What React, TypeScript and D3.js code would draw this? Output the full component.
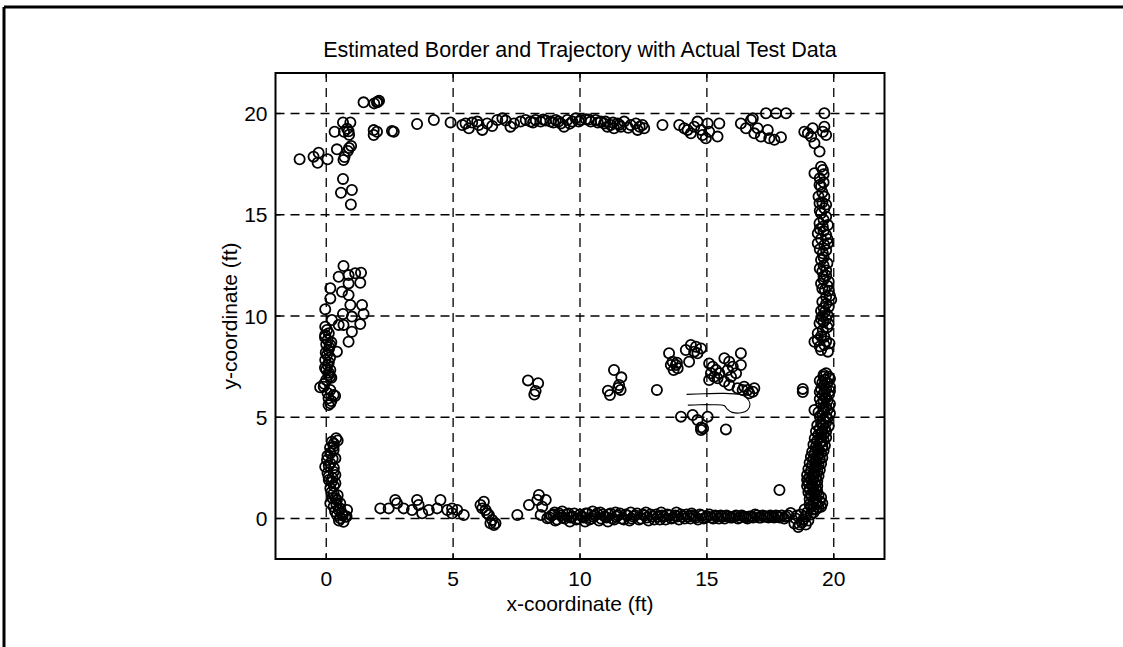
import React from "react";
import * as d3 from "d3";

type P = [number, number];

// ---- Data (ft) ----
const X_TICKS = [0, 5, 10, 15, 20];
const Y_TICKS = [0, 5, 10, 15, 20];
const X_DOMAIN: P = [-2, 22];
const Y_DOMAIN: P = [-2, 22];

const TITLE = "Estimated Border and Trajectory with Actual Test Data";
const X_LABEL = "x-coordinate (ft)";
const Y_LABEL = "y-coordinate (ft)";

const topLeftPoints: P[] = [
  [-1.05, 17.74], [-0.5, 17.87], [-0.3, 18.06], [-0.34, 17.57], [0.05, 17.74],
  [0.42, 18.23], [0.33, 19.1], [0.66, 19.56], [0.95, 19.56], [0.7, 19.1],
  [0.88, 19.12], [0.82, 19.25], [0.9, 18.95], [0.68, 17.7], [0.72, 17.85],
  [0.9, 18.3], [0.98, 18.4], [0.85, 18.15], [0.66, 16.77], [0.58, 16.09],
  [1.01, 16.22], [0.97, 15.51],
  [1.47, 20.55], [1.89, 20.5], [2.0, 20.55], [2.08, 20.63], [2.03, 20.58],
  [1.87, 19.18], [1.87, 18.94], [2.0, 19.1], [2.59, 19.13], [2.66, 19.1],
];

const topBorderPoints: P[] = [
  [3.58, 19.48], [4.24, 19.68], [4.9, 19.56],
  [5.36, 19.43], [5.49, 19.51], [5.62, 19.27], [5.75, 19.55], [5.95, 19.6],
  [6.01, 19.43], [6.15, 19.19], [6.34, 19.51], [6.54, 19.38], [6.74, 19.68],
  [6.94, 19.76], [7.07, 19.65], [7.26, 19.35], [7.4, 19.51], [7.66, 19.6],
  [7.86, 19.68], [8.05, 19.6], [8.25, 19.68], [8.45, 19.6], [8.65, 19.65],
  [8.84, 19.6], [9.04, 19.68], [9.24, 19.51], [9.37, 19.35], [9.5, 19.68],
  [9.7, 19.6], [9.83, 19.76], [10.03, 19.68], [10.23, 19.71], [10.42, 19.6],
  [10.62, 19.68], [10.82, 19.6], [10.95, 19.51], [11.08, 19.35], [11.21, 19.43],
  [11.34, 19.27], [11.48, 19.51], [11.61, 19.35], [11.74, 19.6], [12.0, 19.43],
  [12.2, 19.51], [12.27, 19.19], [12.46, 19.43], [12.53, 19.27],
  [8.15, 19.55], [8.55, 19.7], [8.95, 19.55], [9.15, 19.6], [9.6, 19.5],
  [9.95, 19.6], [10.35, 19.7], [10.7, 19.55], [11.0, 19.6], [11.3, 19.55],
  [11.55, 19.45], [11.9, 19.3], [12.35, 19.35],
  [13.25, 19.43],
  [13.91, 19.43], [14.11, 19.27], [14.24, 19.19], [14.37, 19.02], [14.5, 19.35],
  [14.63, 19.6], [14.77, 19.19], [14.83, 18.94], [14.96, 18.78], [15.03, 19.51],
  [15.09, 19.1], [15.42, 18.86], [15.49, 19.51],
  [16.34, 19.51], [16.54, 19.27], [16.74, 19.68], [16.87, 19.02], [17.13, 18.86],
  [17.33, 20.01], [17.73, 20.01], [18.12, 20.01], [17.0, 19.27], [17.4, 19.19],
  [17.46, 18.78], [17.66, 18.7], [17.92, 18.83], [16.81, 19.76],
];

const rightBorderPoints: P[] = [
  [19.63, 20.01], [18.84, 19.1], [18.98, 19.02], [19.11, 18.86], [19.17, 19.27],
  [19.63, 19.35], [19.7, 18.94], [19.57, 19.1], [19.24, 18.53], [19.44, 18.12],
  [19.5, 17.37], [19.24, 17.05], [19.57, 17.21], [19.44, 16.47], [19.5, 16.39],
  [19.63, 15.89], [19.44, 15.57], [19.63, 15.32], [19.5, 15.07], [19.7, 14.9],
  [19.44, 14.58], [19.57, 14.41], [19.77, 14.49], [19.37, 14.08], [19.7, 14.0],
  [19.37, 13.59], [19.63, 13.51], [19.77, 13.59], [19.57, 13.1], [19.5, 12.77],
  [19.6, 12.5], [19.55, 12.2], [19.7, 12.0], [19.6, 11.8], [19.5, 11.6],
  [19.75, 11.5], [19.65, 11.3], [19.85, 11.0], [19.9, 10.8], [19.7, 10.6],
  [19.6, 10.4], [19.65, 10.2], [19.55, 10.0], [19.7, 9.85], [19.6, 9.7],
  [19.8, 9.6], [19.44, 9.64], [19.57, 9.31], [19.37, 8.81], [19.24, 8.73],
  [19.63, 8.57], [19.83, 8.65], [19.5, 8.32], [19.77, 8.24], [19.37, 9.15],
  [19.63, 8.98],
  [19.6, 17.0], [19.45, 16.8], [19.6, 16.6], [19.55, 16.1], [19.4, 15.9],
  [19.55, 15.6], [19.7, 15.5], [19.45, 15.2], [19.6, 14.75], [19.45, 14.3],
  [19.6, 14.2], [19.5, 13.8], [19.75, 13.8], [19.45, 13.3], [19.7, 13.25],
  [19.6, 12.9], [19.75, 12.6], [19.45, 12.35], [19.7, 12.25], [19.6, 11.95],
  [19.8, 11.7], [19.55, 11.35], [19.8, 11.25], [19.7, 10.95], [19.55, 10.7],
  [19.8, 10.45], [19.5, 10.25], [19.75, 10.05], [19.5, 9.85], [19.75, 9.45],
  [19.5, 9.0], [19.7, 8.75], [19.45, 8.5],
  [19.7, 7.17], [19.6, 7.0], [19.8, 7.0], [19.65, 6.85], [19.55, 6.7],
  [19.75, 6.7], [19.6, 6.55], [19.7, 6.4], [19.5, 6.4], [19.65, 6.25],
  [19.55, 6.1], [19.8, 6.1], [19.7, 5.95], [19.6, 5.8], [19.75, 5.8],
  [19.5, 5.65], [19.7, 5.5], [19.6, 5.5], [19.24, 5.36], [19.75, 5.36],
  [19.55, 5.2], [19.7, 5.05], [19.45, 5.05], [19.6, 4.9], [19.5, 4.75],
  [19.7, 4.75], [19.6, 4.6], [19.45, 4.45], [19.65, 4.45], [19.55, 4.3],
  [19.4, 4.15], [19.6, 4.15], [19.5, 4.0], [19.35, 3.85], [19.6, 3.85],
  [19.45, 3.7], [19.3, 3.55], [19.55, 3.55], [19.4, 3.4], [19.25, 3.25],
  [19.5, 3.25], [19.35, 3.1], [19.2, 2.95], [19.45, 2.95], [19.3, 2.8],
  [19.15, 2.65], [19.4, 2.65], [19.25, 2.5], [19.1, 2.35], [19.35, 2.35],
  [19.2, 2.2], [19.05, 2.05], [19.3, 2.05], [19.1, 1.9], [19.0, 1.75],
  [19.25, 1.75], [19.15, 1.6], [19.05, 1.45], [19.3, 1.45], [19.2, 1.3],
  [19.4, 1.15], [19.1, 1.15], [19.3, 1.0], [19.45, 0.85], [19.2, 0.85],
  [19.35, 0.7], [19.5, 0.58], [19.1, 0.58], [19.3, 0.45], [18.95, 0.3],
  [19.2, 0.3],
  [19.6, 7.1], [19.85, 6.9], [19.45, 6.8], [19.85, 6.5], [19.45, 6.25],
  [19.85, 6.3], [19.65, 6.0], [19.45, 5.9], [19.85, 5.65], [19.6, 5.35],
  [19.85, 5.2], [19.4, 5.25], [19.75, 4.95], [19.55, 4.65], [19.8, 4.55],
  [19.35, 4.6], [19.7, 4.3], [19.3, 4.3], [19.5, 4.2], [19.7, 4.0],
  [19.25, 3.95], [19.5, 3.8], [19.65, 3.6], [19.2, 3.65], [19.35, 3.45],
  [19.6, 3.35], [19.15, 3.3], [19.4, 3.15], [19.55, 3.0], [19.1, 3.05],
  [19.3, 2.9], [19.5, 2.7], [19.05, 2.75], [19.3, 2.55], [19.45, 2.4],
  [19.0, 2.45], [19.25, 2.3], [19.4, 2.1], [18.95, 2.15], [19.2, 2.0],
  [19.35, 1.85], [18.95, 1.9], [19.15, 1.7], [19.35, 1.6], [18.95, 1.6],
  [19.2, 1.5], [19.35, 1.35], [19.0, 1.3], [19.25, 1.2], [19.5, 1.05],
  [19.05, 0.95], [19.3, 0.8], [19.55, 0.75], [19.05, 0.7], [19.4, 0.55],
  [19.2, 0.45], [18.85, 0.45], [19.1, 0.2], [18.8, -0.05], [18.55, 0.15],
  [18.65, -0.3], [18.9, -0.3],
  [18.3, 0.27], [18.5, 0.0], [18.6, -0.42], [18.75, -0.2], [18.9, 0.1],
  [18.45, -0.25], [18.7, 0.2], [19.0, -0.1],
  [18.78, 6.4], [18.78, 6.25], [17.86, 1.41],
];

const bottomBorderPoints: P[] = [
  [2.13, 0.5], [2.46, 0.5], [2.72, 0.91], [2.79, 0.75], [3.05, 0.5],
  [3.38, 0.42], [3.58, 0.91], [3.64, 0.67], [3.78, 0.26], [4.04, 0.42],
  [4.5, 0.91], [4.37, 0.5], [4.77, 0.42], [4.96, 0.26], [5.16, 0.42],
  [5.42, 0.17], [4.96, 0.5],
  [6.08, 0.67], [6.21, 0.83], [6.28, 0.42], [6.34, 0.26], [6.41, 0.17],
  [6.54, -0.07], [6.61, -0.32], [6.47, -0.24], [6.67, -0.24], [6.15, 0.5],
  [7.53, 0.17], [7.99, 0.67], [8.38, 1.16], [8.65, 0.91], [8.32, 0.91],
  [8.51, 0.58], [8.45, 0.17], [8.71, 0.01],
  [8.8, 0.05], [8.95, 0.2], [9.1, -0.05], [9.25, 0.15], [9.4, 0.0],
  [9.55, 0.25], [9.7, 0.1], [9.85, -0.05], [10.0, 0.2], [10.15, 0.05],
  [10.3, 0.25], [10.45, 0.0], [10.6, 0.15], [10.75, -0.1], [10.9, 0.2],
  [11.05, 0.05], [11.2, 0.25], [11.35, -0.05], [11.5, 0.15], [11.65, 0.0],
  [11.8, 0.2], [11.95, -0.1], [12.1, 0.1], [12.25, 0.25], [12.4, 0.0],
  [12.55, 0.15], [12.7, -0.1], [12.85, 0.1], [13.0, 0.2], [13.15, -0.05],
  [13.3, 0.1], [13.45, 0.2], [13.6, 0.0], [13.75, 0.15], [13.9, -0.05],
  [14.05, 0.1], [14.2, 0.2], [14.35, 0.0], [14.5, 0.1], [14.65, -0.05],
  [14.8, 0.15], [14.95, 0.05], [15.1, 0.2], [15.25, 0.0], [15.4, 0.1],
  [15.55, 0.15], [15.7, 0.0], [15.85, 0.1], [16.0, 0.05], [16.15, 0.15],
  [16.3, 0.05], [16.45, 0.1], [16.6, 0.0], [16.75, 0.1], [16.9, 0.2],
  [17.05, 0.05], [17.2, 0.15], [17.35, 0.1], [17.5, 0.15], [17.65, 0.05],
  [17.8, 0.1], [17.95, 0.15], [18.1, 0.1],
  [9.0, 0.3], [9.6, -0.15], [10.2, -0.15], [10.8, 0.3], [11.4, 0.3],
  [12.0, 0.3], [12.6, 0.3], [9.3, 0.35], [10.5, 0.35], [11.1, -0.15],
  [13.2, 0.3], [13.8, 0.3], [14.4, 0.25],
  [8.875, 0.15], [9.025, -0.1], [9.175, 0.25], [9.325, 0.05], [9.475, 0.2],
  [9.625, 0.05], [9.775, 0.25], [9.925, 0.0], [10.075, 0.1], [10.225, 0.25],
  [10.375, -0.05], [10.525, 0.1], [10.675, 0.25], [10.825, 0.0], [10.975, 0.1],
  [11.125, 0.2], [11.275, 0.0], [11.425, 0.1], [11.575, 0.25], [11.725, -0.05],
  [11.875, 0.15], [12.025, 0.0], [12.175, 0.15], [12.325, -0.05], [12.475, 0.2],
  [12.625, 0.05], [12.775, 0.2], [12.925, -0.05], [13.075, 0.1], [13.225, 0.15],
  [13.375, -0.05], [13.525, 0.15], [13.675, 0.05], [13.825, 0.1], [13.975, 0.2],
  [14.125, 0.0], [14.275, 0.1], [14.425, 0.15], [14.575, 0.05], [14.725, 0.2],
  [14.875, 0.0], [15.025, 0.1], [15.175, 0.05], [15.325, 0.15], [15.475, 0.0],
  [15.625, 0.1], [15.775, 0.15], [15.925, 0.05], [16.075, 0.1], [16.225, 0.0],
  [16.375, 0.15], [16.525, 0.05], [16.675, 0.1], [16.825, 0.05], [16.975, 0.15],
  [17.125, 0.05], [17.275, 0.1], [17.425, 0.05], [17.575, 0.1], [17.725, 0.15],
  [17.875, 0.05], [18.05, 0.0], [18.2, 0.15],
];

const leftBorderPoints: P[] = [
  [0.68, 12.47], [0.49, 11.94], [0.88, 12.02], [1.14, 12.11], [1.37, 12.14],
  [0.16, 11.37], [0.88, 11.61], [1.34, 11.64], [0.62, 11.2], [0.16, 10.87],
  [0.88, 11.04], [-0.04, 10.33], [0.95, 10.54], [1.41, 10.54], [0.66, 10.1],
  [1.47, 10.1], [1.01, 9.97], [0.22, 9.8], [0.49, 9.56], [0.68, 9.56],
  [1.34, 9.6], [1.01, 9.22], [0.88, 8.73],
  [-0.04, 9.47], [0.03, 9.31], [-0.04, 9.06], [0.05, 8.81], [0.16, 8.57],
  [0.09, 8.32], [0.03, 8.07], [-0.04, 7.83], [0.05, 7.58], [0.16, 7.33],
  [0.09, 7.09], [0.0, 6.84], [-0.1, 6.51], [-0.24, 6.48], [0.16, 6.35],
  [0.29, 6.1], [0.09, 5.94], [0.16, 5.69], [0.09, 5.6], [0.42, 8.24],
  [0.2, 8.7], [-0.05, 8.95], [0.15, 7.95], [0.1, 7.2], [-0.05, 7.45],
  [0.2, 6.95], [0.35, 6.05],
  [0.1, 9.15], [0.0, 8.6], [0.12, 8.45], [-0.02, 8.2], [0.1, 7.7],
  [0.0, 7.35], [0.15, 7.0], [-0.08, 6.65], [0.05, 6.2], [0.2, 5.8],
  [0.39, 3.96], [0.29, 3.55], [0.16, 3.22], [0.03, 2.89], [-0.04, 2.56],
  [0.16, 2.73], [0.29, 2.31], [0.09, 2.06], [0.22, 1.82], [0.16, 1.49],
  [0.29, 1.24], [0.36, 1.0], [0.16, 0.75], [0.42, 0.91], [0.29, 0.58],
  [0.49, 0.42], [0.62, 0.26], [0.55, 0.01], [0.75, 0.09], [0.42, 0.17],
  [0.55, 0.75], [0.68, -0.16], [0.82, 0.42], [0.36, 2.97], [0.36, 1.74],
  [0.29, 3.38], [0.22, 3.79], [0.36, 2.15],
  [0.05, 3.1], [0.25, 2.95], [0.1, 2.6], [0.3, 2.5], [0.05, 2.25],
  [0.25, 2.0], [0.1, 1.9], [0.3, 1.6], [0.2, 1.3], [0.45, 1.15],
  [0.25, 1.0], [0.4, 0.7], [0.55, 0.5], [0.35, 0.35], [0.65, 0.15],
  [0.5, -0.1], [0.8, 0.1], [0.15, 3.5], [0.3, 3.7], [0.45, 3.85],
];

const interiorPoints: P[] = [
  [7.95, 6.82], [8.35, 6.68], [8.2, 6.12], [8.25, 6.3],
  [11.34, 7.33], [11.63, 6.97], [11.54, 6.59], [11.1, 6.31], [11.18, 6.1],
  [11.6, 6.35], [11.5, 6.45],
  [13.03, 6.35],
  [13.51, 8.16], [13.58, 7.58], [13.65, 7.74], [13.78, 7.58], [13.85, 7.42],
  [13.69, 7.33], [13.82, 7.69], [14.17, 8.32], [14.37, 8.57], [14.57, 8.48],
  [14.5, 8.24], [14.63, 8.16], [14.77, 8.4], [14.3, 7.74], [15.09, 7.66],
  [15.23, 7.5], [15.36, 7.33], [15.16, 7.17], [15.29, 7.0], [15.09, 6.84],
  [15.42, 6.92], [15.69, 7.91], [15.88, 7.74], [16.02, 7.5], [16.34, 8.16],
  [16.34, 7.58], [16.15, 7.17], [15.95, 7.0], [15.69, 6.76], [15.88, 6.59],
  [16.21, 6.43], [16.47, 6.51], [16.61, 6.35], [16.81, 6.26], [16.67, 6.18],
  [16.87, 6.43], [16.41, 6.35], [15.49, 7.17], [15.82, 7.33],
  [13.98, 5.03], [14.44, 5.11], [14.63, 4.86], [14.77, 4.5], [14.77, 4.37],
  [14.85, 4.45], [15.03, 5.03], [15.75, 4.4],
];

const trajectory: P[] = [
  [14.25, 5.6], [14.7, 5.62], [15.2, 5.62], [15.68, 5.58], [15.8, 5.4],
  [16.0, 5.24], [16.35, 5.22], [16.6, 5.35], [16.7, 5.65], [16.55, 5.98],
  [16.3, 6.12], [15.6, 6.18], [14.9, 6.16], [14.2, 6.13],
];

// ---- Layout ----
const W = 1123;
const H = 647;
const PLOT = { left: 275.5, right: 884.5, top: 73, bottom: 559 };
const FONT = "'Liberation Sans', Arial, Helvetica, sans-serif";

export default function App() {
  const x = d3.scaleLinear().domain(X_DOMAIN).range([PLOT.left, PLOT.right]);
  const y = d3.scaleLinear().domain(Y_DOMAIN).range([PLOT.bottom, PLOT.top]);

  const allPoints: P[] = [
    ...topLeftPoints,
    ...topBorderPoints,
    ...rightBorderPoints,
    ...bottomBorderPoints,
    ...leftBorderPoints,
    ...interiorPoints,
  ];

  const line = d3
    .line<P>()
    .x((d) => x(d[0]))
    .y((d) => y(d[1]))
    .curve(d3.curveCatmullRom.alpha(0.5));

  const tickLen = 5;
  const pw = PLOT.right - PLOT.left;
  const ph = PLOT.bottom - PLOT.top;

  return (
    <svg
      width={W}
      height={H}
      style={{ position: "absolute", left: 0, top: 0, background: "#fff" }}
    >
      <rect x={0} y={0} width={W} height={H} fill="#fff" />
      {/* outer frame */}
      <line x1={4} y1={7} x2={W} y2={7} stroke="#000" strokeWidth={3} />
      <line x1={4} y1={7} x2={4} y2={H} stroke="#000" strokeWidth={3} />

      {/* title */}
      <text
        x={(PLOT.left + PLOT.right) / 2}
        y={57}
        textAnchor="middle"
        fontFamily={FONT}
        fontSize={21.5}
        fill="#000"
      >
        {TITLE}
      </text>

      {/* grid */}
      {X_TICKS.map((t) => (
        <line
          key={"gx" + t}
          x1={x(t)}
          x2={x(t)}
          y1={PLOT.top}
          y2={PLOT.bottom}
          stroke="#000"
          strokeWidth={1.3}
          strokeDasharray="9,6"
        />
      ))}
      {Y_TICKS.map((t) => (
        <line
          key={"gy" + t}
          x1={PLOT.left}
          x2={PLOT.right}
          y1={y(t)}
          y2={y(t)}
          stroke="#000"
          strokeWidth={1.3}
          strokeDasharray="9,6"
        />
      ))}

      {/* data points */}
      <g fill="none" stroke="#000" strokeWidth={1.8}>
        {allPoints.map((d, i) => (
          <circle key={i} cx={x(d[0])} cy={y(d[1])} r={5.1} />
        ))}
      </g>

      {/* estimated trajectory */}
      <path d={line(trajectory) || ""} fill="none" stroke="#000" strokeWidth={1.1} />

      {/* axes box */}
      <rect
        x={PLOT.left}
        y={PLOT.top}
        width={pw}
        height={ph}
        fill="none"
        stroke="#000"
        strokeWidth={2}
      />
      {X_TICKS.map((t) => (
        <g key={"tx" + t}>
          <line x1={x(t)} x2={x(t)} y1={PLOT.bottom} y2={PLOT.bottom - tickLen} stroke="#000" strokeWidth={1.3} />
          <line x1={x(t)} x2={x(t)} y1={PLOT.top} y2={PLOT.top + tickLen} stroke="#000" strokeWidth={1.3} />
          <text
            x={x(t)}
            y={PLOT.bottom + 27}
            textAnchor="middle"
            fontFamily={FONT}
            fontSize={21}
            fill="#000"
          >
            {t}
          </text>
        </g>
      ))}
      {Y_TICKS.map((t) => (
        <g key={"ty" + t}>
          <line x1={PLOT.left} x2={PLOT.left + tickLen} y1={y(t)} y2={y(t)} stroke="#000" strokeWidth={1.3} />
          <line x1={PLOT.right} x2={PLOT.right - tickLen} y1={y(t)} y2={y(t)} stroke="#000" strokeWidth={1.3} />
          <text
            x={PLOT.left - 8}
            y={y(t) + 7.5}
            textAnchor="end"
            fontFamily={FONT}
            fontSize={21}
            fill="#000"
          >
            {t}
          </text>
        </g>
      ))}

      {/* axis labels */}
      <text
        x={(PLOT.left + PLOT.right) / 2}
        y={611}
        textAnchor="middle"
        fontFamily={FONT}
        fontSize={21}
        fill="#000"
      >
        {X_LABEL}
      </text>
      <text
        transform={`translate(237,${(PLOT.top + PLOT.bottom) / 2}) rotate(-90)`}
        textAnchor="middle"
        fontFamily={FONT}
        fontSize={21}
        fill="#000"
      >
        {Y_LABEL}
      </text>
    </svg>
  );
}
